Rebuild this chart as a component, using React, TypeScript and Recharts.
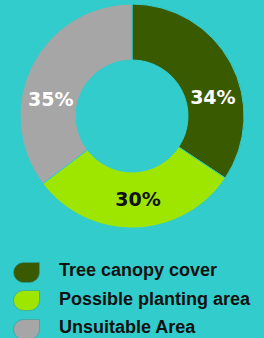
import { Legend, Pie, PieChart, Cell } from "recharts";

const categories = ["Tree canopy cover", "Possible planting area", "Unsuitable Area"];
const shares = [34, 30, 35];
const colors = ["#3a5a00", "#9ee600", "#a6a6a6"];
const labelColors = ["#ffffff", "#111111", "#ffffff"];

const data = categories.map((name, i) => ({ name, value: shares[i] }));

const RADIAN = Math.PI / 180;

// labels sit in the ring, pulled a bit toward the horizontal like the original
function renderLabel(props: any) {
  const { cx, cy, midAngle, innerRadius, outerRadius, index } = props;
  const r = (innerRadius + outerRadius) / 2 - 1;
  const a = Math.atan2(Math.sin(midAngle * RADIAN) * 0.43, Math.cos(midAngle * RADIAN));
  const x = cx + r * Math.cos(a);
  const y = cy - r * Math.sin(a);
  return (
    <text
      x={x}
      y={y}
      fill={labelColors[index]}
      textAnchor="middle"
      dominantBaseline="central"
      fontFamily="DejaVu Sans"
      fontWeight="bold"
      fontSize={19}
    >
      {`${shares[index]}%`}
    </text>
  );
}

function Leaf({ color }: { color: string }) {
  return (
    <svg width={27} height={21} style={{ display: "block" }}>
      <path
        d="M0.5 10.5 A10 10 0 0 1 10.5 0.5 L26.5 0.5 L26.5 10.5 A10 10 0 0 1 16.5 20.5 L10.5 20.5 A10 10 0 0 1 0.5 10.5 Z"
        fill={color}
        stroke="#2a9f9f"
        strokeWidth={0.6}
      />
    </svg>
  );
}

function renderLegend() {
  return (
    <div>
      {categories.map((name, i) => (
        <div
          key={name}
          style={{ display: "flex", alignItems: "center", height: 28.5 }}
        >
          <Leaf color={colors[i]} />
          <span
            style={{
              marginLeft: 19,
              marginTop: -3,
              fontFamily: "Liberation Sans, Arial, sans-serif",
              fontWeight: "bold",
              fontSize: 18,
              color: "#111111"
            }}
          >
            {name}
          </span>
        </div>
      ))}
    </div>
  );
}

export default function App() {
  return (
    <div style={{ width: 264, height: 338, background: "#33cccc" }}>
      <style>{`body{margin:0;background:#33cccc;}`}</style>
      <PieChart
        width={264}
        height={338}
        margin={{ top: 0, right: 0, bottom: 0, left: 0 }}
      >
        <Pie
          data={data}
          dataKey="value"
          cx={132}
          cy={116}
          innerRadius={56}
          outerRadius={112}
          startAngle={90}
          endAngle={-270}
          stroke="#33cccc"
          strokeWidth={1}
          label={renderLabel}
          labelLine={false}
          isAnimationActive={false}
        >
          {data.map((d, i) => (
            <Cell key={d.name} fill={colors[i]} />
          ))}
        </Pie>
        <Legend
          layout="vertical"
          content={renderLegend}
          wrapperStyle={{ left: 13, top: 258, width: 251 }}
        />
      </PieChart>
    </div>
  );
}
